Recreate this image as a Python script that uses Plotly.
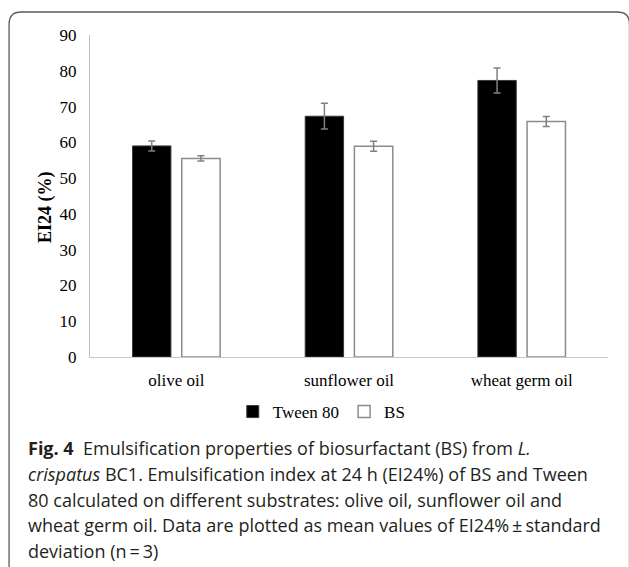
import plotly.graph_objects as go

# Substrates and emulsification index values (EI24, %) with standard deviations
substrates = ["olive oil", "sunflower oil", "wheat germ oil"]
tween80_mean = [59.0, 67.3, 77.3]
tween80_sd = [1.4, 3.6, 3.5]
bs_mean = [55.5, 58.9, 65.8]
bs_sd = [0.75, 1.4, 1.4]
y_ticks = [0, 10, 20, 30, 40, 50, 60, 70, 80, 90]

caption_lines = [
    "<b>Fig. 4</b>  Emulsification properties of biosurfactant (BS) from <i>L.</i>",
    "<i>crispatus</i> BC1. Emulsification index at 24 h (EI24%) of BS and Tween",
    "80 calculated on different substrates: olive oil, sunflower oil and",
    "wheat germ oil. Data are plotted as mean values of EI24%\u2009\u00b1\u2009standard",
    "deviation (n\u2009=\u20093)",
]

W, H = 629, 567
L, R, T, B = 90, 608.5, 35, 357  # plot area in pixels


def px(x):
    return (x - L) / (R - L)


def py(y):
    return (B - y) / (B - T)


serif = "Liberation Serif, Times New Roman, serif"
sans = "Open Sans, Noto Sans, sans-serif"

fig = go.Figure()
fig.add_trace(go.Bar(
    name="Tween 80", x=substrates, y=tween80_mean,
    marker=dict(color="black", line=dict(color="#3a3a3a", width=1)),
    error_y=dict(type="data", array=tween80_sd, color="#808080", thickness=1.5, width=3.5),
))
fig.add_trace(go.Bar(
    name="BS", x=substrates, y=bs_mean,
    marker=dict(color="white", line=dict(color="#8c8c8c", width=1.5)),
    error_y=dict(type="data", array=bs_sd, color="#808080", thickness=1.5, width=3.5),
))

fig.update_layout(
    width=W, height=H,
    margin=dict(l=L, r=W - R, t=T, b=H - B),
    paper_bgcolor="white", plot_bgcolor="white",
    barmode="group", bargap=0.43, bargroupgap=0.22,
    font=dict(family=serif, size=17, color="black"),
    showlegend=True,
    legend=dict(
        orientation="h", x=px(322), y=py(412), xanchor="center", yanchor="middle",
        font=dict(family=serif, size=17, color="black"),
        itemwidth=30, bgcolor="rgba(0,0,0,0)",
    ),
)
fig.update_xaxes(
    showline=True, linecolor="#c8c8c8", linewidth=1.2,
    showgrid=False, ticks="", ticklabelstandoff=7,
    tickfont=dict(family=serif, size=17, color="black"),
)
fig.update_yaxes(
    range=[0, 90], tickvals=y_ticks, showline=True, linecolor="#c0c0c0", linewidth=1.2,
    showgrid=False, zeroline=False, ticks="", ticklabelstandoff=9,
    tickfont=dict(family=serif, size=17, color="black"),
)

# Rotated y-axis title
fig.add_annotation(
    text="<b>EI24 (%)</b>", textangle=-90, xref="paper", yref="paper",
    x=px(45), y=py(207), xanchor="center", yanchor="middle", showarrow=False,
    font=dict(family=serif, size=18, color="black"),
)

# Figure caption
for i, line in enumerate(caption_lines):
    fig.add_annotation(
        text=line, xref="paper", yref="paper",
        x=px(26), y=py(448 + 25.8 * i), xanchor="left", yanchor="middle",
        showarrow=False, align="left",
        font=dict(family=sans, size=18, color="#231f20"),
    )

# Rounded frame open at the bottom
x0, x1, y0, r = 9, 630, 12, 12
path = (
    f"M {px(x0)},{py(600)} L {px(x0)},{py(y0 + r)} "
    f"Q {px(x0)},{py(y0)} {px(x0 + r)},{py(y0)} "
    f"L {px(x1 - r)},{py(y0)} Q {px(x1)},{py(y0)} {px(x1)},{py(y0 + r)} "
    f"L {px(x1)},{py(600)}"
)
fig.add_shape(type="path", path=path, xref="paper", yref="paper",
              line=dict(color="#5a5a5a", width=1.3), layer="above")

fig.write_html("out.html")
